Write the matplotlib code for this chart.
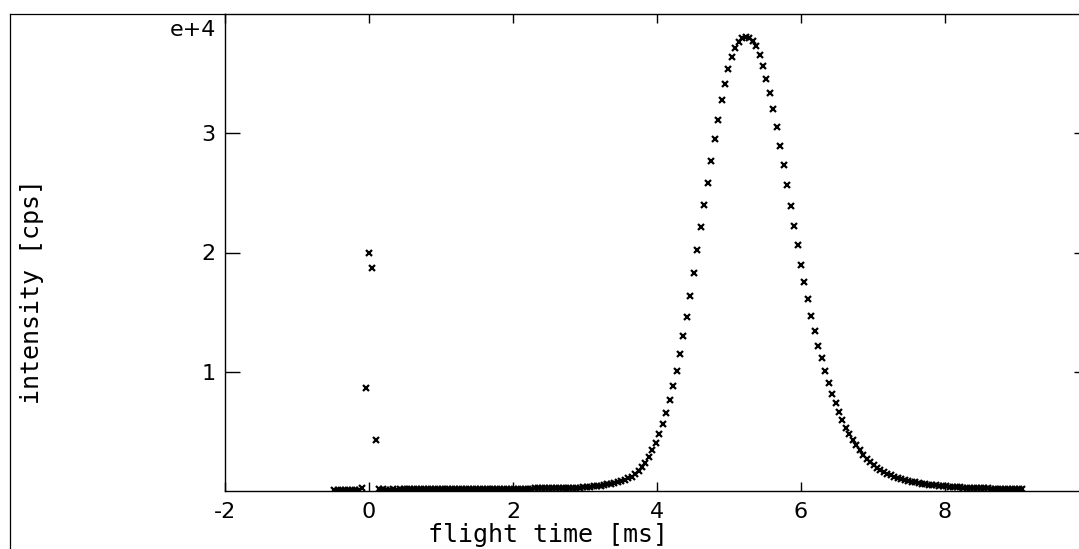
import numpy as np
import matplotlib
matplotlib.use("Agg")
import matplotlib.pyplot as plt
from matplotlib.lines import Line2D

# ---- data -------------------------------------------------------------
t_start = -0.48          # ms, first channel
t_step = 0.048           # ms, channel width

# intensity in units of 1e4 cps, one value per channel
intensity_e4 = [
    # pre-trigger
    0.010, 0.010, 0.011, 0.010, 0.011, 0.010, 0.011, 0.012, 0.025,
    # trigger spike
    0.86, 2.00, 1.87, 0.43,
    # flat baseline
    0.016, 0.013, 0.012, 0.012, 0.013, 0.012, 0.013, 0.013, 0.013, 0.014,
    0.013, 0.014, 0.014, 0.013, 0.014, 0.014, 0.014, 0.015, 0.014, 0.015,
    0.015, 0.015, 0.015, 0.016, 0.015, 0.016, 0.016, 0.016, 0.016, 0.017,
    0.017, 0.017, 0.017, 0.018, 0.017, 0.018, 0.018, 0.018, 0.019, 0.019,
    0.019, 0.019, 0.020, 0.020, 0.020, 0.021, 0.021, 0.021, 0.022, 0.022,
    0.022, 0.023, 0.023, 0.024, 0.024, 0.025, 0.025,
    # onset of the peak
    0.027, 0.029, 0.031, 0.033, 0.036, 0.039, 0.042, 0.046, 0.050, 0.055,
    0.060, 0.066, 0.073, 0.082, 0.093, 0.106, 0.121, 0.140, 0.165, 0.198,
    0.238,
    # rising flank
    0.286, 0.342, 0.406, 0.479, 0.566, 0.655, 0.762, 0.882, 1.008, 1.145,
    1.300, 1.460, 1.633, 1.826, 2.020, 2.210,
    # top of the peak
    2.401, 2.580, 2.765, 2.950, 3.115, 3.280, 3.417, 3.538, 3.641, 3.714,
    3.762, 3.797, 3.809, 3.802, 3.775, 3.730, 3.660, 3.563, 3.454, 3.336,
    3.202, 3.050, 2.891, 2.731, 2.563, 2.390,
    # falling flank
    2.221, 2.064, 1.897, 1.756, 1.608, 1.468, 1.345, 1.216, 1.115, 1.008,
    0.905, 0.815, 0.734, 0.661, 0.594, 0.532, 0.476, 0.426, 0.384, 0.342,
    0.303, 0.272, 0.241, 0.218, 0.196, 0.179, 0.162, 0.145,
    # tail
    0.132, 0.120, 0.109, 0.099, 0.091, 0.084, 0.078, 0.072, 0.067, 0.062,
    0.058, 0.054, 0.050, 0.047, 0.044, 0.041, 0.039, 0.037, 0.035, 0.033,
    0.031, 0.029, 0.027, 0.026, 0.025, 0.024, 0.023, 0.022, 0.021, 0.020,
    0.020, 0.019, 0.019, 0.018, 0.018, 0.018, 0.017, 0.017, 0.017,
]

x_ticks = [-2, 0, 2, 4, 6, 8]
x_tick_labels = ["-2", "0", "2", "4", "6", "8"]
y_ticks = [1, 2, 3]
y_tick_labels = ["1", "2", "3"]
x_label = "flight time [ms]"
y_label = "intensity [cps]"
exponent_label = "e+4"

flight_time = t_start + t_step * np.arange(len(intensity_e4))

# ---- figure -----------------------------------------------------------
W, H = 1079, 549
fig = plt.figure(figsize=(W / 100, H / 100), dpi=100)
fig.patch.set_facecolor("white")

ax_left, ax_right, ax_top, ax_bottom = 225, 1089, 14, 491
ax = fig.add_axes([ax_left / W, (H - ax_bottom) / H,
                   (ax_right - ax_left) / W, (ax_bottom - ax_top) / H])

ax.plot(flight_time, intensity_e4, linestyle="none", marker="x",
        color="black", markersize=4.4, markeredgewidth=1.6)

ax.set_xlim(-2, 10)
ax.set_ylim(0, 4)

for side in ["left", "bottom", "top"]:
    ax.spines[side].set_linewidth(1.0)
    ax.spines[side].set_color("black")
ax.spines["right"].set_visible(False)

ax.set_xticks(x_ticks)
ax.set_xticklabels(x_tick_labels)
ax.set_yticks(y_ticks)
ax.set_yticklabels(y_tick_labels)

ax.tick_params(axis="x", direction="in", length=6.5, width=1.0,
               top=True, bottom=True, labelsize=16, pad=8, colors="black")
ax.tick_params(axis="y", direction="in", length=11, width=1.0,
               left=True, right=True, labelsize=16, pad=7, colors="black")

# exponent marker
fig.text(216 / W, 1 - 30 / H, exponent_label, ha="right", va="center",
         fontsize=16, color="black")

# axis labels (plotter-style monospace)
fig.text(548 / W, (H - 542) / H, x_label, ha="center", va="baseline",
         fontsize=18, family="DejaVu Sans Mono", color="black")
fig.text(32 / W, 1 - 291 / H, y_label, ha="center", va="center",
         rotation=90, fontsize=18, family="DejaVu Sans Mono", color="black")

# outer frame of the scanned page
fig.add_artist(Line2D([10 / W, 10 / W], [0, 1 - 14 / H],
                      transform=fig.transFigure, color="black", lw=0.9))
fig.add_artist(Line2D([10 / W, ax_left / W], [1 - 14 / H, 1 - 14 / H],
                      transform=fig.transFigure, color="black", lw=0.9))

fig.savefig("out.png", dpi=100, facecolor="white")
